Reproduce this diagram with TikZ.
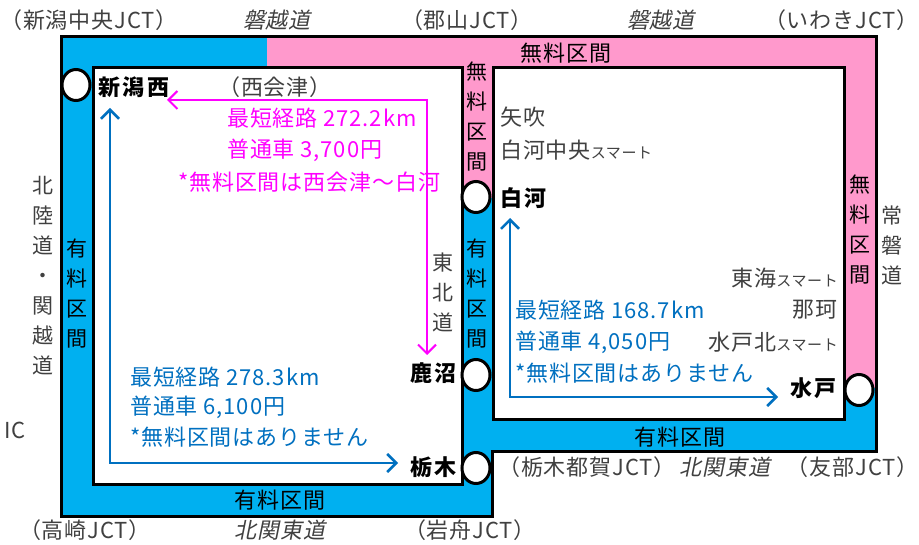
\documentclass[tikz,border=0pt]{standalone}
\usepackage{fontspec}
\setmainfont{Noto Sans CJK JP}[LetterSpace=4]
\newfontfamily\slantjp{Noto Sans CJK JP}[FakeSlant=0.2, LetterSpace=4]
\newfontfamily\stnjp{Noto Sans CJK JP}[LetterSpace=12]
\usetikzlibrary{arrows.meta,shapes.geometric}

\definecolor{paidblue}{HTML}{00B0F0}
\definecolor{freepink}{HTML}{FF99CC}
\definecolor{routemag}{HTML}{FF00FF}
\definecolor{routeblue}{HTML}{0070C0}
\definecolor{labelgray}{HTML}{404040}

\newcommand{\smartic}{{\fontsize{15}{18}\selectfont スマート}}

\tikzset{
  lbl/.style={inner sep=0pt, font=\fontsize{22}{26}\selectfont},
  graylbl/.style={lbl, text=labelgray},
  roadlbl/.style={inner sep=0pt, text=labelgray, font=\slantjp\fontsize{22}{26}\selectfont},
  stnlbl/.style={inner sep=0pt, font=\stnjp\fontsize{22}{26}\selectfont\bfseries},
  vlbl/.style={inner sep=0pt, align=center, font=\fontsize{21}{30}\selectfont},
  icmark/.style={draw, line width=3pt, fill=white, ellipse, minimum width=28pt, minimum height=31pt, inner sep=0pt},
  magroute/.style={draw=routemag, line width=2pt, {Straight Barb[length=9pt,width=18pt]}-{Straight Barb[length=9pt,width=18pt]}},
  blueroute/.style={draw=routeblue, line width=2.5pt, {Straight Barb[length=9pt,width=18pt]}-{Straight Barb[length=9pt,width=18pt]}}
}

\begin{document}
\begin{tikzpicture}[x=1pt, y=-1pt]
        \useasboundingbox (0,0) rectangle (919,545);

        % Expressway bands (paid = blue, free = pink)
        \fill[paidblue] (61,37) -- (876,37) -- (876,451) -- (492,451) -- (492,516) -- (61,516) -- cycle;
        \fill[freepink] (267,37) -- (876,37) -- (876,388) -- (844,388) -- (844,68) -- (493,68)
            -- (493,198) -- (462,198) -- (462,68) -- (267,68) -- cycle;
        \draw[line width=3pt] (61,37) -- (876,37) -- (876,451) -- (492,451) -- (492,516) -- (61,516) -- cycle;

        % Inner areas
        \draw[line width=3pt, fill=white] (93,68) rectangle (462,484);
        \draw[line width=3pt, fill=white] (493,68) rectangle (844,420);

        % Junction names and roads (top)
        \node[graylbl, anchor=west] (jctniigata) at (0,20) {（新潟中央JCT）};
        \node[roadlbl] (banetsuw) at (277,20) {磐越道};
        \node[graylbl] (jctkoriyama) at (467,20) {（郡山JCT）};
        \node[roadlbl] (banetsue) at (661,20) {磐越道};
        \node[graylbl, anchor=east] (jctiwaki) at (919,20) {（いわきJCT）};

        % Band labels
        \node[lbl] (freetop) at (566,53) {無料区間};
        \node[vlbl] (freemid) at (477,117) {無\\料\\区\\間};
        \node[vlbl] (freeright) at (860,230) {無\\料\\区\\間};
        \node[vlbl] (paidleft) at (77,294) {有\\料\\区\\間};
        \node[vlbl] (paidmid) at (477,294) {有\\料\\区\\間};
        \node[lbl] (paidright) at (680,437) {有料区間};
        \node[lbl] (paidbottom) at (280,500) {有料区間};

        % Side road names
        \node[vlbl, text=labelgray] (hokuriku) at (43,276) {北\\陸\\道\\・\\関\\越\\道};
        \node[vlbl, text=labelgray] (tohoku) at (443,292) {東\\北\\道};
        \node[vlbl, text=labelgray] (joban) at (892,245) {常\\磐\\道};
        \node[graylbl, anchor=east] (icleft) at (26,430) {IC};

        % Interchanges
        \node[icmark] (icniigata) at (76,85) {};
        \node[icmark] (icshirakawa) at (476,197) {};
        \node[icmark] (ickanuma) at (476,375) {};
        \node[icmark] (ictochigi) at (476,468) {};
        \node[icmark] (icmito) at (859,390) {};

        \node[stnlbl, anchor=west] (niigatanishi) at (98,87) {新潟西};
        \node[graylbl, anchor=west] (nishiaizu) at (218,87) {（西会津）};
        \node[graylbl, anchor=west] (yabuki) at (500,117) {矢吹};
        \node[graylbl, anchor=west] (shirakawachuo) at (500,150) {白河中央\smartic};
        \node[stnlbl, anchor=west] (shirakawa) at (500,198) {白河};
        \node[stnlbl, anchor=east] (kanuma) at (457,373) {鹿沼};
        \node[stnlbl, anchor=east] (tochigi) at (457,467) {栃木};
        \node[stnlbl, anchor=east] (mito) at (837,388) {水戸};
        \node[graylbl, anchor=east] (tokai) at (838,278) {東海\smartic};
        \node[graylbl, anchor=east] (naka) at (838,310) {那珂};
        \node[graylbl, anchor=east] (mitokita) at (838,342) {水戸北\smartic};

        % Route via Aizu
        \node[lbl, text=routemag, anchor=west] (magdist) at (227,118) {最短経路 272.2km};
        \node[lbl, text=routemag, anchor=west] (magfare) at (227,150) {普通車 3,700円};
        \node[lbl, text=routemag, anchor=west] (magnote) at (178,182) {*無料区間は西会津～白河};

        % Route via Kita-Kanto (west)
        \node[lbl, text=routeblue, anchor=west] (bwdist) at (130,377) {最短経路 278.3km};
        \node[lbl, text=routeblue, anchor=west] (bwfare) at (130,407) {普通車 6,100円};
        \node[lbl, text=routeblue, anchor=west] (bwnote) at (130,437) {*無料区間はありません};

        % Route via Kita-Kanto (east)
        \node[lbl, text=routeblue, anchor=west] (bedist) at (515,310) {最短経路 168.7km};
        \node[lbl, text=routeblue, anchor=west] (befare) at (515,342) {普通車 4,050円};
        \node[lbl, text=routeblue, anchor=west] (benote) at (515,373) {*無料区間はありません};

        % Junction names and roads (bottom)
        \node[graylbl] (jcttsuga) at (587,467) {（栃木都賀JCT）};
        \node[roadlbl] (kitakantoe) at (725,467) {北関東道};
        \node[graylbl, anchor=east] (jcttomobe) at (919,467) {（友部JCT）};
        \node[graylbl] (jcttakasaki) at (85,530) {（高崎JCT）};
        \node[roadlbl] (kitakantow) at (280,530) {北関東道};
        \node[graylbl] (jctiwafune) at (470,530) {（岩舟JCT）};

        % Route arrows
        \coordinate (magw) at (167,100);
        \coordinate (mags) at (427,355);
        \coordinate (bwn) at (110,108);
        \coordinate (bwe) at (398,463);
        \coordinate (ben) at (510,218);
        \coordinate (bee) at (778,397);
        \draw[magroute] (magw) -| (mags);
        \draw[blueroute] (bwn) |- (bwe);
        \draw[blueroute] (ben) |- (bee);

    \end{tikzpicture}
\end{document}
